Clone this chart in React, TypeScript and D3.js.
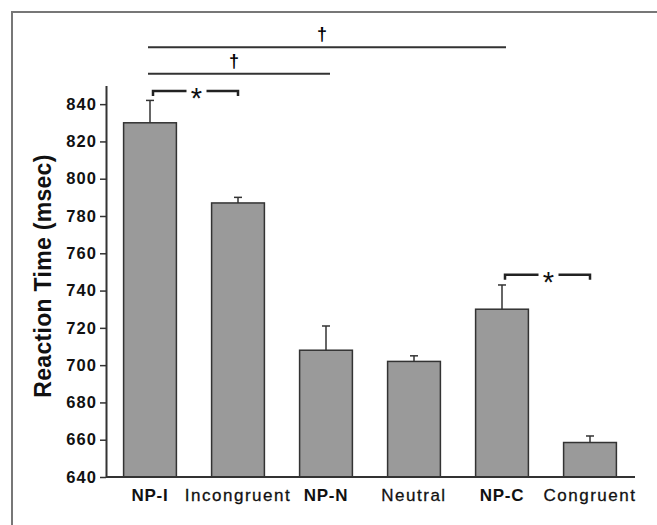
import React, { useRef, useEffect } from 'react';
import * as d3 from 'd3';

const categories = ['NP-I', 'Incongruent', 'NP-N', 'Neutral', 'NP-C', 'Congruent'];
const boldLabels = ['NP-I', 'NP-N', 'NP-C'];
const meanRT = [830, 787, 708, 702, 730, 658.5];
const errorRT = [12, 3, 13, 3, 13, 3.5];
const yTicks = [640, 660, 680, 700, 720, 740, 760, 780, 800, 820, 840];

// significance marks (levels in msec units)
const daggerFrom = ['NP-I', 'NP-I'];
const daggerTo = ['NP-C', 'NP-N'];
const daggerLevel = [870.5, 856.3];
const starFrom = ['NP-I', 'NP-C'];
const starTo = ['Incongruent', 'Congruent'];
const starLevel = [847, 748.5];

const W = 657;
const H = 525;
const FONT = '"Liberation Sans", Arial, Helvetica, sans-serif';

const App = () => {
  const ref = useRef(null);

  useEffect(() => {
    const svg = d3.select(ref.current);
    svg.selectAll('*').remove();

    const x = d3.scaleBand()
      .domain(categories)
      .range([106, 634])
      .paddingInner(0.4)
      .paddingOuter(0.2);

    const y = d3.scaleLinear()
      .domain([640, 850])
      .range([477, 85.5]);

    const cx = (c) => x(c) + x.bandwidth() / 2;

    // outer frame
    svg.append('rect')
      .attr('x', 12).attr('y', 12)
      .attr('width', 700).attr('height', 600)
      .attr('fill', 'none')
      .attr('stroke', '#777')
      .attr('stroke-width', 2);

    // y axis
    const yAxis = d3.axisLeft(y)
      .tickValues(yTicks)
      .tickSize(6)
      .tickSizeOuter(0)
      .tickPadding(3)
      .tickFormat(d3.format('d'));

    const gy = svg.append('g')
      .attr('transform', `translate(${x.range()[0]},0)`)
      .call(yAxis);
    gy.select('.domain').attr('stroke', '#333').attr('stroke-width', 2);
    gy.selectAll('.tick line').attr('stroke', '#333').attr('stroke-width', 1.5);
    gy.selectAll('.tick text')
      .attr('fill', '#111')
      .style('font-family', FONT)
      .style('font-size', '16.5px')
      .style('font-weight', 'bold')
      .style('letter-spacing', '1.1px');

    // y label
    svg.append('text')
      .attr('transform', 'translate(51,276) rotate(-90)')
      .attr('text-anchor', 'middle')
      .attr('fill', '#111')
      .style('font-family', FONT)
      .style('font-size', '23px')
      .style('font-weight', 'bold')
      .style('letter-spacing', '0.3px')
      .text('Reaction Time (msec)');

    // bars
    const data = categories.map((c, i) => ({ c, v: meanRT[i], e: errorRT[i] }));

    svg.selectAll('.bar')
      .data(data)
      .join('rect')
      .attr('class', 'bar')
      .attr('x', (d) => x(d.c))
      .attr('y', (d) => y(d.v))
      .attr('width', x.bandwidth())
      .attr('height', (d) => y(640) - y(d.v))
      .attr('fill', '#9a9a9a')
      .attr('stroke', '#333')
      .attr('stroke-width', 1.5);

    // error bars
    const err = svg.selectAll('.err')
      .data(data)
      .join('g')
      .attr('class', 'err')
      .attr('stroke', '#333')
      .attr('stroke-width', 1.5);
    err.append('line')
      .attr('x1', (d) => cx(d.c)).attr('x2', (d) => cx(d.c))
      .attr('y1', (d) => y(d.v)).attr('y2', (d) => y(d.v + d.e));
    err.append('line')
      .attr('x1', (d) => cx(d.c) - 4).attr('x2', (d) => cx(d.c) + 4)
      .attr('y1', (d) => y(d.v + d.e)).attr('y2', (d) => y(d.v + d.e));

    // x baseline
    svg.append('line')
      .attr('x1', x.range()[0]).attr('x2', x.range()[1] + 1)
      .attr('y1', y(640)).attr('y2', y(640))
      .attr('stroke', '#333')
      .attr('stroke-width', 2);

    // category labels
    svg.selectAll('.cat')
      .data(categories)
      .join('text')
      .attr('class', 'cat')
      .attr('x', (c) => cx(c))
      .attr('y', 500.5)
      .attr('text-anchor', 'middle')
      .attr('fill', '#111')
      .style('font-family', FONT)
      .style('font-size', '17px')
      .style('font-weight', (c) => (boldLabels.includes(c) ? 'bold' : 'normal'))
      .style('letter-spacing', (c) => (boldLabels.includes(c) ? '0.7px' : '1.5px'))
      .style('stroke', (c) => (boldLabels.includes(c) ? 'none' : '#111'))
      .style('stroke-width', 0.3)
      .text((c) => c);

    // dagger lines
    daggerFrom.forEach((f, i) => {
      const x1 = cx(f) - 2;
      const x2 = cx(daggerTo[i]) + 4;
      const ly = y(daggerLevel[i]);
      svg.append('line')
        .attr('x1', x1).attr('x2', x2)
        .attr('y1', ly).attr('y2', ly)
        .attr('stroke', '#333')
        .attr('stroke-width', 2);
      svg.append('text')
        .attr('x', (x1 + x2) / 2 - 5)
        .attr('y', ly - 7)
        .attr('text-anchor', 'middle')
        .attr('fill', '#000')
        .style('font-family', FONT)
        .style('font-size', '18px')
        .style('font-weight', 'bold')
        .text('\u2020');
    });

    // star brackets
    starFrom.forEach((f, i) => {
      const l = cx(f) + 3;
      const r = cx(starTo[i]);
      const m = (l + r) / 2 + 1;
      const ly = y(starLevel[i]);
      svg.append('path')
        .attr('d', `M${l},${ly + 5}V${ly}H${m - 10}M${m + 10},${ly}H${r}V${ly + 5}`)
        .attr('fill', 'none')
        .attr('stroke', '#222')
        .attr('stroke-width', 2.5);
      svg.append('text')
        .attr('x', m)
        .attr('y', ly + 17)
        .attr('text-anchor', 'middle')
        .attr('fill', '#111')
        .style('font-family', FONT)
        .style('font-size', '29px')
        .text('*');
    });
  }, []);

  return (
    <svg
      ref={ref}
      width={W}
      height={H}
      style={{ position: 'absolute', left: 0, top: 0, background: '#fff' }}
    />
  );
};

export default App;
